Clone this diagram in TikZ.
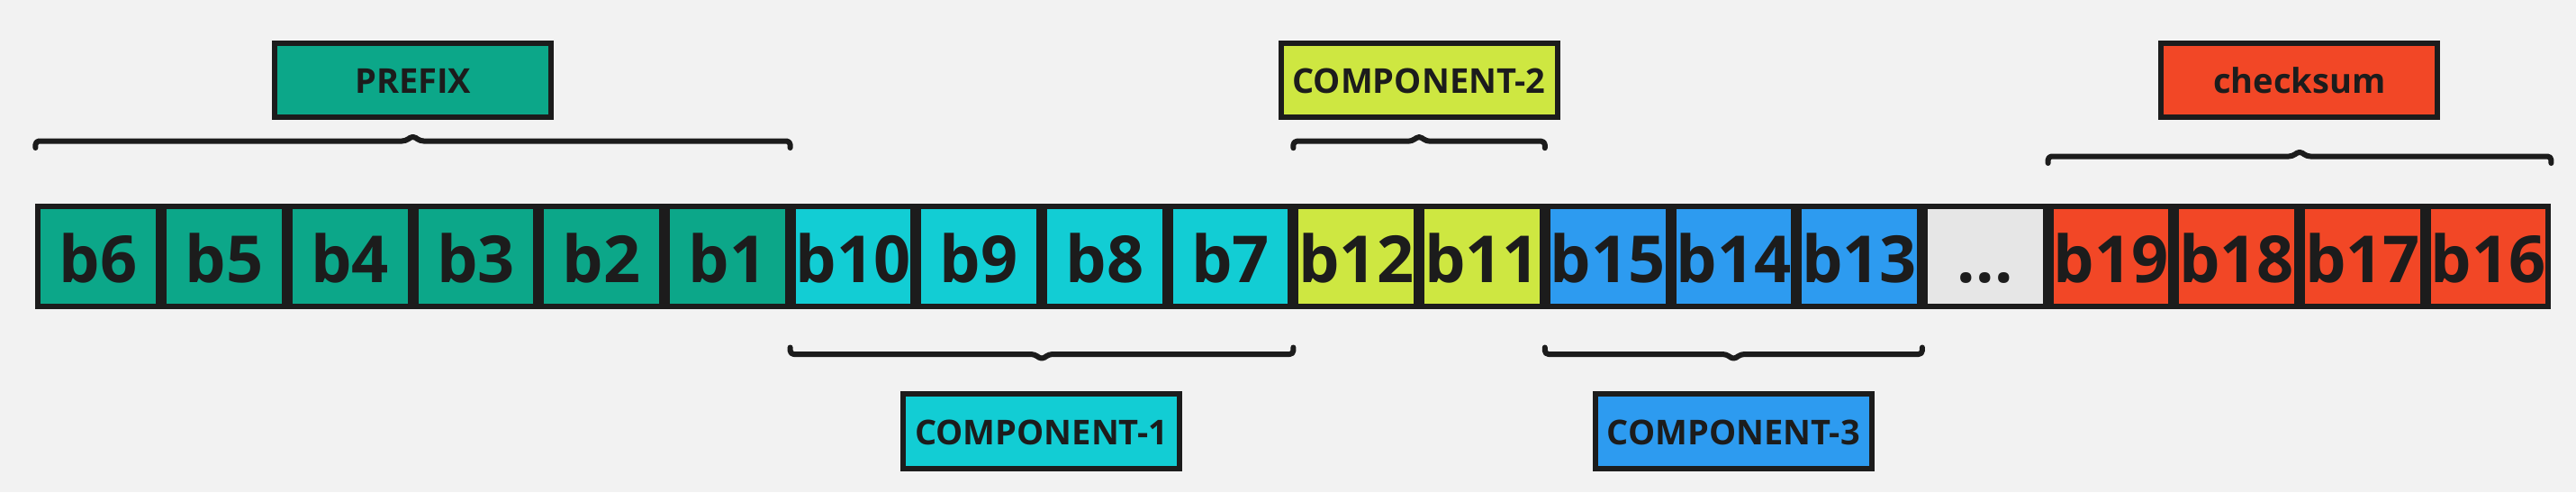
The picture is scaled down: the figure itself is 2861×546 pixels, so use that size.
\documentclass[tikz,border=0pt]{standalone}
\usepackage{fontspec}
\setmainfont{Open Sans}
\usetikzlibrary{calc}
\definecolor{bg}{HTML}{F2F2F2}
\definecolor{ink}{HTML}{1C1C1C}
\definecolor{cteal}{HTML}{0CA789}
\definecolor{ccyan}{HTML}{12CDD4}
\definecolor{clime}{HTML}{CEE741}
\definecolor{cblue}{HTML}{2D9BF0}
\definecolor{cred}{HTML}{F24726}
\definecolor{cgray}{HTML}{E6E6E6}
\newcommand\mybraceup[3]{%
  \path (#1.north west) ++(0,-#3) coordinate (bl);
  \path (#2.north east) ++(0,-#3) coordinate (br);
  \draw[bracestyle] ($(bl)+(0,7.5)$) -- (bl) -- ($(bl)!0.5!(br)+(-8,0)$) -- ($(bl)!0.5!(br)+(0,-6)$) -- ($(bl)!0.5!(br)+(8,0)$) -- (br) -- ($(br)+(0,7.5)$);}
\newcommand\mybracedown[3]{%
  \path (#1.south west) ++(0,#3) coordinate (bl);
  \path (#2.south east) ++(0,#3) coordinate (br);
  \draw[bracestyle] ($(bl)+(0,-7.5)$) -- (bl) -- ($(bl)!0.5!(br)+(-8,0)$) -- ($(bl)!0.5!(br)+(0,6)$) -- ($(bl)!0.5!(br)+(8,0)$) -- (br) -- ($(br)+(0,-7.5)$);}
\begin{document}
\begin{tikzpicture}[x=1pt,y=-1pt,
  cell/.style={draw=ink, line width=6pt, minimum width=133.7pt, minimum height=111.3pt, inner sep=0pt, text height=58pt, text depth=0pt, font=\fontsize{72}{80}\selectfont\bfseries, text=ink},
  lab/.style={draw=ink, line width=6pt, minimum width=307pt, minimum height=82.8pt, inner sep=0pt, text height=29.6pt, text depth=0pt, font=\fontsize{38}{44}\selectfont\bfseries, text=ink},
  bracestyle/.style={draw=ink, line width=6pt, line cap=round, line join=round, rounded corners=4pt}]
\fill[bg] (0,0) rectangle (2861,546);
\useasboundingbox (0,0) rectangle (2861,546);
% cells
\node[cell, fill=cteal] (b6)  at ({39.4+139.7*0.5},284.65) {b6};
\node[cell, fill=cteal] (b5)  at ({39.4+139.7*1.5},284.65) {b5};
\node[cell, fill=cteal] (b4)  at ({39.4+139.7*2.5},284.65) {b4};
\node[cell, fill=cteal] (b3)  at ({39.4+139.7*3.5},284.65) {b3};
\node[cell, fill=cteal] (b2)  at ({39.4+139.7*4.5},284.65) {b2};
\node[cell, fill=cteal] (b1)  at ({39.4+139.7*5.5},284.65) {b1};
\node[cell, fill=ccyan] (b10) at ({39.4+139.7*6.5},284.65) {b10};
\node[cell, fill=ccyan] (b9)  at ({39.4+139.7*7.5},284.65) {b9};
\node[cell, fill=ccyan] (b8)  at ({39.4+139.7*8.5},284.65) {b8};
\node[cell, fill=ccyan] (b7)  at ({39.4+139.7*9.5},284.65) {b7};
\node[cell, fill=clime] (b12) at ({39.4+139.7*10.5},284.65) {b12};
\node[cell, fill=clime] (b11) at ({39.4+139.7*11.5},284.65) {b11};
\node[cell, fill=cblue] (b15) at ({39.4+139.7*12.5},284.65) {b15};
\node[cell, fill=cblue] (b14) at ({39.4+139.7*13.5},284.65) {b14};
\node[cell, fill=cblue] (b13) at ({39.4+139.7*14.5},284.65) {b13};
\node[cell, fill=cgray] (dots) at ({39.4+139.7*15.5},284.65) {...};
\node[cell, fill=cred] (b19) at ({39.4+139.7*16.5},284.65) {b19};
\node[cell, fill=cred] (b18) at ({39.4+139.7*17.5},284.65) {b18};
\node[cell, fill=cred] (b17) at ({39.4+139.7*18.5},284.65) {b17};
\node[cell, fill=cred] (b16) at ({39.4+139.7*19.5},284.65) {b16};
% labels
\node[lab, fill=cteal] (prefix) at (458.8,89) {PREFIX};
\node[lab, fill=clime] (comp2) at (1576,89) {COMPONENT-2};
\node[lab, fill=cred] (checksum) at (2553.7,89) {checksum};
\node[lab, fill=ccyan] (comp1) at (1156.8,478.2) {COMPONENT-1};
\node[lab, fill=cblue] (comp3) at (1925.3,478.2) {COMPONENT-3};
% braces
\mybraceup{b6}{b1}{69.5}
\mybraceup{b12}{b11}{69.3}
\mybraceup{b19}{b16}{52.5}
\mybracedown{b10}{b7}{49.7}
\mybracedown{b15}{b13}{49.7}
\end{tikzpicture}
\end{document}
